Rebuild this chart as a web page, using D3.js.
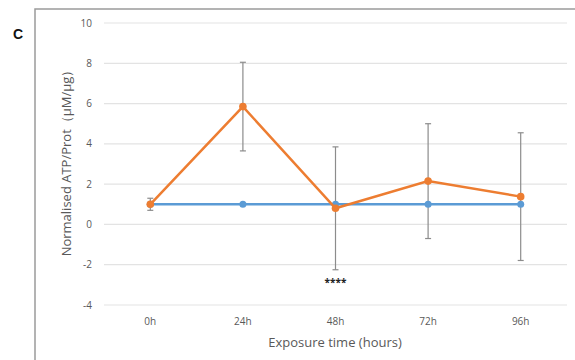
<!DOCTYPE html>
<html lang="en">
<head>
	<meta charset="UTF-8">
	<title>ATP/Prot exposure time</title>
	<script src="https://d3js.org/d3.v7.min.js"></script>
	<style>
		body { margin: 0; background: #fff; }
		svg { display: block; }
		text { font-family: "Open Sans", "DejaVu Sans", sans-serif; fill: #595959; }
	</style>
</head>
<body>
<div id="chart"></div>
<script>
	// data
	const categories = ["0h", "24h", "48h", "72h", "96h"];
	const controlValues = [1, 1, 1, 1, 1];
	const exposedValues = [1.0, 5.85, 0.8, 2.15, 1.38];
	const exposedErrors = [0.3, 2.2, 3.05, 2.85, 3.17];
	const yTicks = [-4, -2, 0, 2, 4, 6, 8, 10];

	const sizeX = 575, sizeY = 360;
	const colors = { control: "#5b9bd5", exposed: "#ed7d31", grid: "#e3e3e3", err: "#8c8c8c" };

	const svg = d3.create("svg")
		.attr("width", sizeX)
		.attr("height", sizeY);

	// outer frame (clipped at the right/bottom, like the original crop)
	svg.append("rect")
		.attr("x", 35)
		.attr("y", 9)
		.attr("width", 600)
		.attr("height", 400)
		.attr("fill", "none")
		.attr("stroke", "#9a9a9a")
		.attr("stroke-width", 1.5);

	svg.append("text")
		.attr("x", 13)
		.attr("y", 39)
		.style("font-family", "Arial, 'Liberation Sans', sans-serif")
		.style("font-weight", "bold")
		.style("font-size", "14px")
		.style("fill", "#111")
		.text("C");

	const x = d3.scaleBand()
		.domain(categories)
		.range([104, 567]);

	const y = d3.scaleLinear()
		.domain([-4, 10])
		.range([305, 23]);

	// gridlines
	svg.append("g")
		.selectAll("line")
		.data(yTicks)
		.join("line")
		.attr("x1", 104)
		.attr("x2", 567)
		.attr("y1", d => y(d))
		.attr("y2", d => y(d))
		.attr("stroke", colors.grid)
		.attr("stroke-width", 1.2);

	// y tick labels
	svg.append("g")
		.selectAll("text")
		.data(yTicks)
		.join("text")
		.attr("x", 92)
		.attr("y", d => y(d))
		.attr("dy", "0.35em")
		.attr("text-anchor", "end")
		.style("font-size", "10px")
		.text(d => d);

	// x tick labels
	svg.append("g")
		.selectAll("text")
		.data(categories)
		.join("text")
		.attr("x", d => x(d) + x.bandwidth() / 2)
		.attr("y", 321)
		.attr("dy", "0.35em")
		.attr("text-anchor", "middle")
		.style("font-size", "10px")
		.text(d => d);

	// axis titles
	svg.append("text")
		.attr("x", 335)
		.attr("y", 342)
		.attr("dy", "0.35em")
		.attr("text-anchor", "middle")
		.style("font-size", "13px")
		.text("Exposure time (hours)");

	svg.append("text")
		.attr("transform", "translate(66,160) rotate(-90)")
		.attr("dy", "0.35em")
		.attr("text-anchor", "middle")
		.style("font-size", "13px")
		.text("Normalised ATP/Prot（μM/μg）");

	const cx = d => x(d) + x.bandwidth() / 2;
	const line = d3.line()
		.x(d => cx(d[0]))
		.y(d => y(d[1]));

	// error bars for exposed series
	const errG = svg.append("g");
	categories.forEach((c, i) => {
		const lo = y(exposedValues[i] - exposedErrors[i]);
		const hi = y(exposedValues[i] + exposedErrors[i]);
		errG.append("line")
			.attr("x1", cx(c)).attr("x2", cx(c))
			.attr("y1", lo).attr("y2", hi)
			.attr("stroke", colors.err).attr("stroke-width", 1.2);
		[lo, hi].forEach(yy => {
			errG.append("line")
				.attr("x1", cx(c) - 3).attr("x2", cx(c) + 3)
				.attr("y1", yy).attr("y2", yy)
				.attr("stroke", colors.err).attr("stroke-width", 1.2);
		});
	});

	// control series
	svg.append("path")
		.datum(categories.map((c, i) => [c, controlValues[i]]))
		.attr("d", line)
		.attr("fill", "none")
		.attr("stroke", colors.control)
		.attr("stroke-width", 2.5);
	svg.append("g")
		.selectAll("circle")
		.data(categories.map((c, i) => [c, controlValues[i]]))
		.join("circle")
		.attr("cx", d => cx(d[0]))
		.attr("cy", d => y(d[1]))
		.attr("r", 3.5)
		.attr("fill", colors.control);

	// exposed series
	svg.append("path")
		.datum(categories.map((c, i) => [c, exposedValues[i]]))
		.attr("d", line)
		.attr("fill", "none")
		.attr("stroke", colors.exposed)
		.attr("stroke-width", 2.5);
	svg.append("g")
		.selectAll("circle")
		.data(categories.map((c, i) => [c, exposedValues[i]]))
		.join("circle")
		.attr("cx", d => cx(d[0]))
		.attr("cy", d => y(d[1]))
		.attr("r", 3.8)
		.attr("fill", colors.exposed);

	// significance mark
	svg.append("text")
		.attr("x", cx("48h"))
		.attr("y", 282)
		.attr("dy", "0.35em")
		.attr("text-anchor", "middle")
		.style("font-size", "10px")
		.style("font-weight", "bold")
		.style("fill", "#222")
		.text("****");

	document.getElementById("chart").append(svg.node());
</script>
</body>
</html>
